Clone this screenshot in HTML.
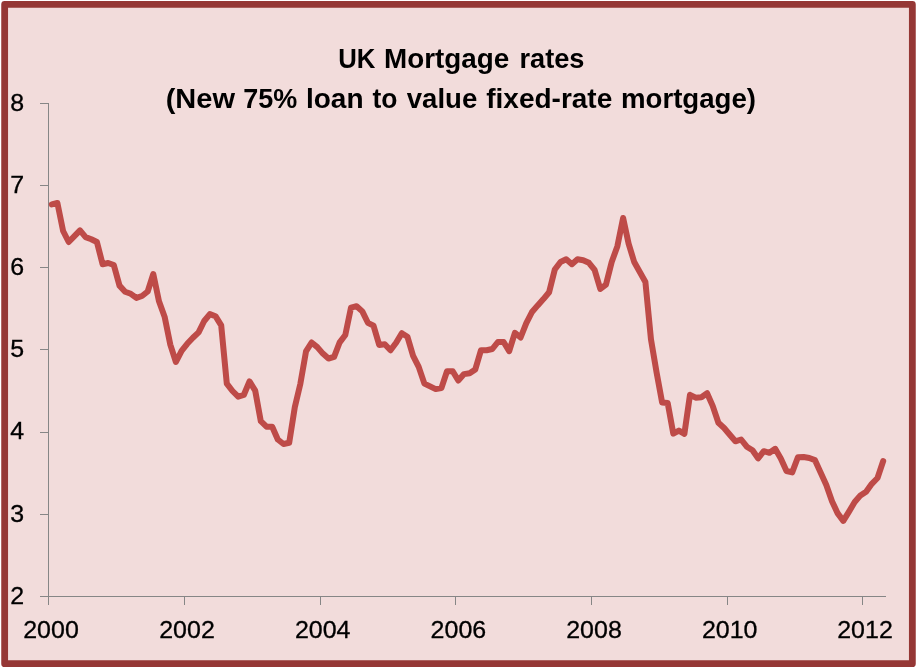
<!DOCTYPE html>
<html><head><meta charset="utf-8"><title>UK Mortgage rates</title>
<style>
html,body{margin:0;padding:0;background:#fff;}
body{width:917px;height:668px;overflow:hidden;}
svg{display:block;}
text{font-family:"Liberation Sans",sans-serif;fill:#000;}
.t{font-weight:bold;font-size:28.3px;text-anchor:start;}
.l{font-size:23.8px;stroke:#000;stroke-width:0.3px;}
</style></head><body>
<svg width="917" height="668" viewBox="0 0 917 668">
<rect x="4.65" y="4.4" width="907.7" height="659.3" fill="#F2DCDB" stroke="#953735" stroke-width="6.8" stroke-linejoin="round"/>
<g stroke="#868686" stroke-width="1" fill="none" shape-rendering="crispEdges">
<path d="M48.5 103 V605 M40 103.5 H49 M40 185.5 H49 M40 267.5 H49 M40 349.5 H49 M40 432 H49 M40 514 H49 M40 596.5 H886"/>
<path d="M184.5 596 V605 M320.5 596 V605 M455.5 596 V605 M591.5 596 V605 M727.5 596 V605 M862.5 596 V605"/>
</g>
<text class="t" y="68"><tspan x="338.24" textLength="37.22" lengthAdjust="spacingAndGlyphs">UK</tspan> <tspan x="383.94" textLength="125.28" lengthAdjust="spacingAndGlyphs">Mortgage</tspan> <tspan x="519.48" textLength="65.04" lengthAdjust="spacingAndGlyphs">rates</tspan></text>
<text class="t" y="107.9"><tspan x="165.72" textLength="69.24" lengthAdjust="spacingAndGlyphs">(New</tspan> <tspan x="243.24" textLength="53.98" lengthAdjust="spacingAndGlyphs">75%</tspan> <tspan x="305.94" textLength="57.58" lengthAdjust="spacingAndGlyphs">loan</tspan> <tspan x="372.56" textLength="24.96" lengthAdjust="spacingAndGlyphs">to</tspan> <tspan x="406.80" textLength="70.44" lengthAdjust="spacingAndGlyphs">value</tspan> <tspan x="486.28" textLength="125.98" lengthAdjust="spacingAndGlyphs">fixed-rate</tspan> <tspan x="620.96" textLength="135.08" lengthAdjust="spacingAndGlyphs">mortgage)</tspan></text>
<g class="l" text-anchor="start">
<text x="10.3" y="110.6" textLength="13.9" lengthAdjust="spacingAndGlyphs">8</text>
<text x="10.3" y="192.6" textLength="13.9" lengthAdjust="spacingAndGlyphs">7</text>
<text x="10.3" y="274.8" textLength="13.9" lengthAdjust="spacingAndGlyphs">6</text>
<text x="10.3" y="356.9" textLength="13.9" lengthAdjust="spacingAndGlyphs">5</text>
<text x="10.3" y="439.1" textLength="13.9" lengthAdjust="spacingAndGlyphs">4</text>
<text x="10.3" y="521.7" textLength="13.9" lengthAdjust="spacingAndGlyphs">3</text>
<text x="10.3" y="604.0" textLength="13.9" lengthAdjust="spacingAndGlyphs">2</text>
</g>
<g class="l" text-anchor="middle">
<text x="51" y="638" textLength="55.6" lengthAdjust="spacingAndGlyphs">2000</text>
<text x="187" y="638" textLength="55.6" lengthAdjust="spacingAndGlyphs">2002</text>
<text x="322.7" y="638" textLength="55.6" lengthAdjust="spacingAndGlyphs">2004</text>
<text x="458.4" y="638" textLength="55.6" lengthAdjust="spacingAndGlyphs">2006</text>
<text x="594" y="638" textLength="55.6" lengthAdjust="spacingAndGlyphs">2008</text>
<text x="729.7" y="638" textLength="55.6" lengthAdjust="spacingAndGlyphs">2010</text>
<text x="865.0" y="638" textLength="55.6" lengthAdjust="spacingAndGlyphs">2012</text>
</g>
<path d="M51.8 204.4 L57.4 203.0 L63.1 231.0 L68.7 242.0 L74.4 236.2 L80.0 230.4 L85.6 237.1 L91.3 239.2 L96.9 242.0 L102.6 264.2 L108.2 263.0 L113.8 265.0 L119.5 285.6 L125.1 291.7 L130.8 293.8 L136.4 297.9 L142.0 296.0 L147.7 291.5 L153.3 274.0 L159.0 301.3 L164.6 316.7 L170.3 344.6 L175.9 362.0 L181.6 350.8 L187.2 343.8 L192.9 337.7 L198.6 332.4 L204.2 321.0 L209.9 314.1 L215.5 316.2 L221.2 325.4 L226.8 383.6 L232.5 391.0 L238.2 396.7 L243.8 395.0 L249.5 381.4 L255.2 390.6 L260.8 421.2 L266.5 426.7 L272.2 426.7 L277.8 439.5 L283.5 444.0 L289.2 442.8 L294.8 407.2 L300.4 383.6 L306.0 351.4 L311.6 342.5 L317.3 347.1 L322.9 353.6 L328.5 358.5 L334.1 356.9 L339.7 342.3 L345.3 335.0 L351.0 307.6 L356.6 306.2 L362.3 311.4 L367.9 322.8 L373.5 325.7 L379.2 344.9 L384.8 344.2 L390.5 350.2 L396.1 342.8 L401.8 333.2 L407.4 336.7 L413.1 355.9 L418.7 366.9 L424.4 383.6 L430.1 386.4 L435.7 389.1 L441.4 388.1 L447.0 371.2 L452.7 371.2 L458.3 380.5 L464.0 374.1 L469.6 373.2 L475.3 369.4 L481.0 350.2 L486.6 350.2 L492.3 349.0 L497.9 342.0 L503.6 342.0 L509.2 351.1 L514.9 332.8 L520.6 337.5 L526.3 323.2 L532.0 312.0 L537.7 305.4 L543.4 299.1 L549.1 292.3 L554.8 269.5 L560.5 262.0 L566.2 259.3 L571.9 264.2 L577.5 259.3 L583.2 260.2 L588.9 262.8 L594.6 269.8 L600.3 289.0 L606.0 284.6 L611.7 262.0 L617.4 246.2 L623.1 218.0 L628.6 243.6 L634.2 262.0 L639.8 271.9 L645.4 282.0 L651.0 339.6 L656.5 371.9 L662.1 402.4 L667.7 403.0 L673.3 433.6 L678.9 430.6 L684.4 433.8 L690.0 394.8 L695.7 397.7 L701.4 397.2 L707.1 393.2 L712.7 405.9 L718.4 422.8 L724.1 428.0 L729.8 434.8 L735.4 441.3 L741.1 439.5 L746.8 446.7 L752.5 450.2 L758.1 458.4 L763.8 451.2 L769.5 452.8 L775.2 448.8 L780.8 458.4 L786.5 471.0 L792.2 472.4 L797.9 457.2 L803.6 457.0 L809.3 458.0 L814.9 460.1 L820.6 472.4 L826.3 485.1 L832.0 501.2 L837.7 513.4 L843.3 520.9 L849.0 511.6 L854.7 502.0 L860.4 495.4 L866.1 491.7 L871.8 483.8 L877.5 478.0 L883.2 461.0" fill="none" stroke="#BE4B48" stroke-width="6" stroke-linejoin="round" stroke-linecap="round"/>
</svg>
</body></html>
